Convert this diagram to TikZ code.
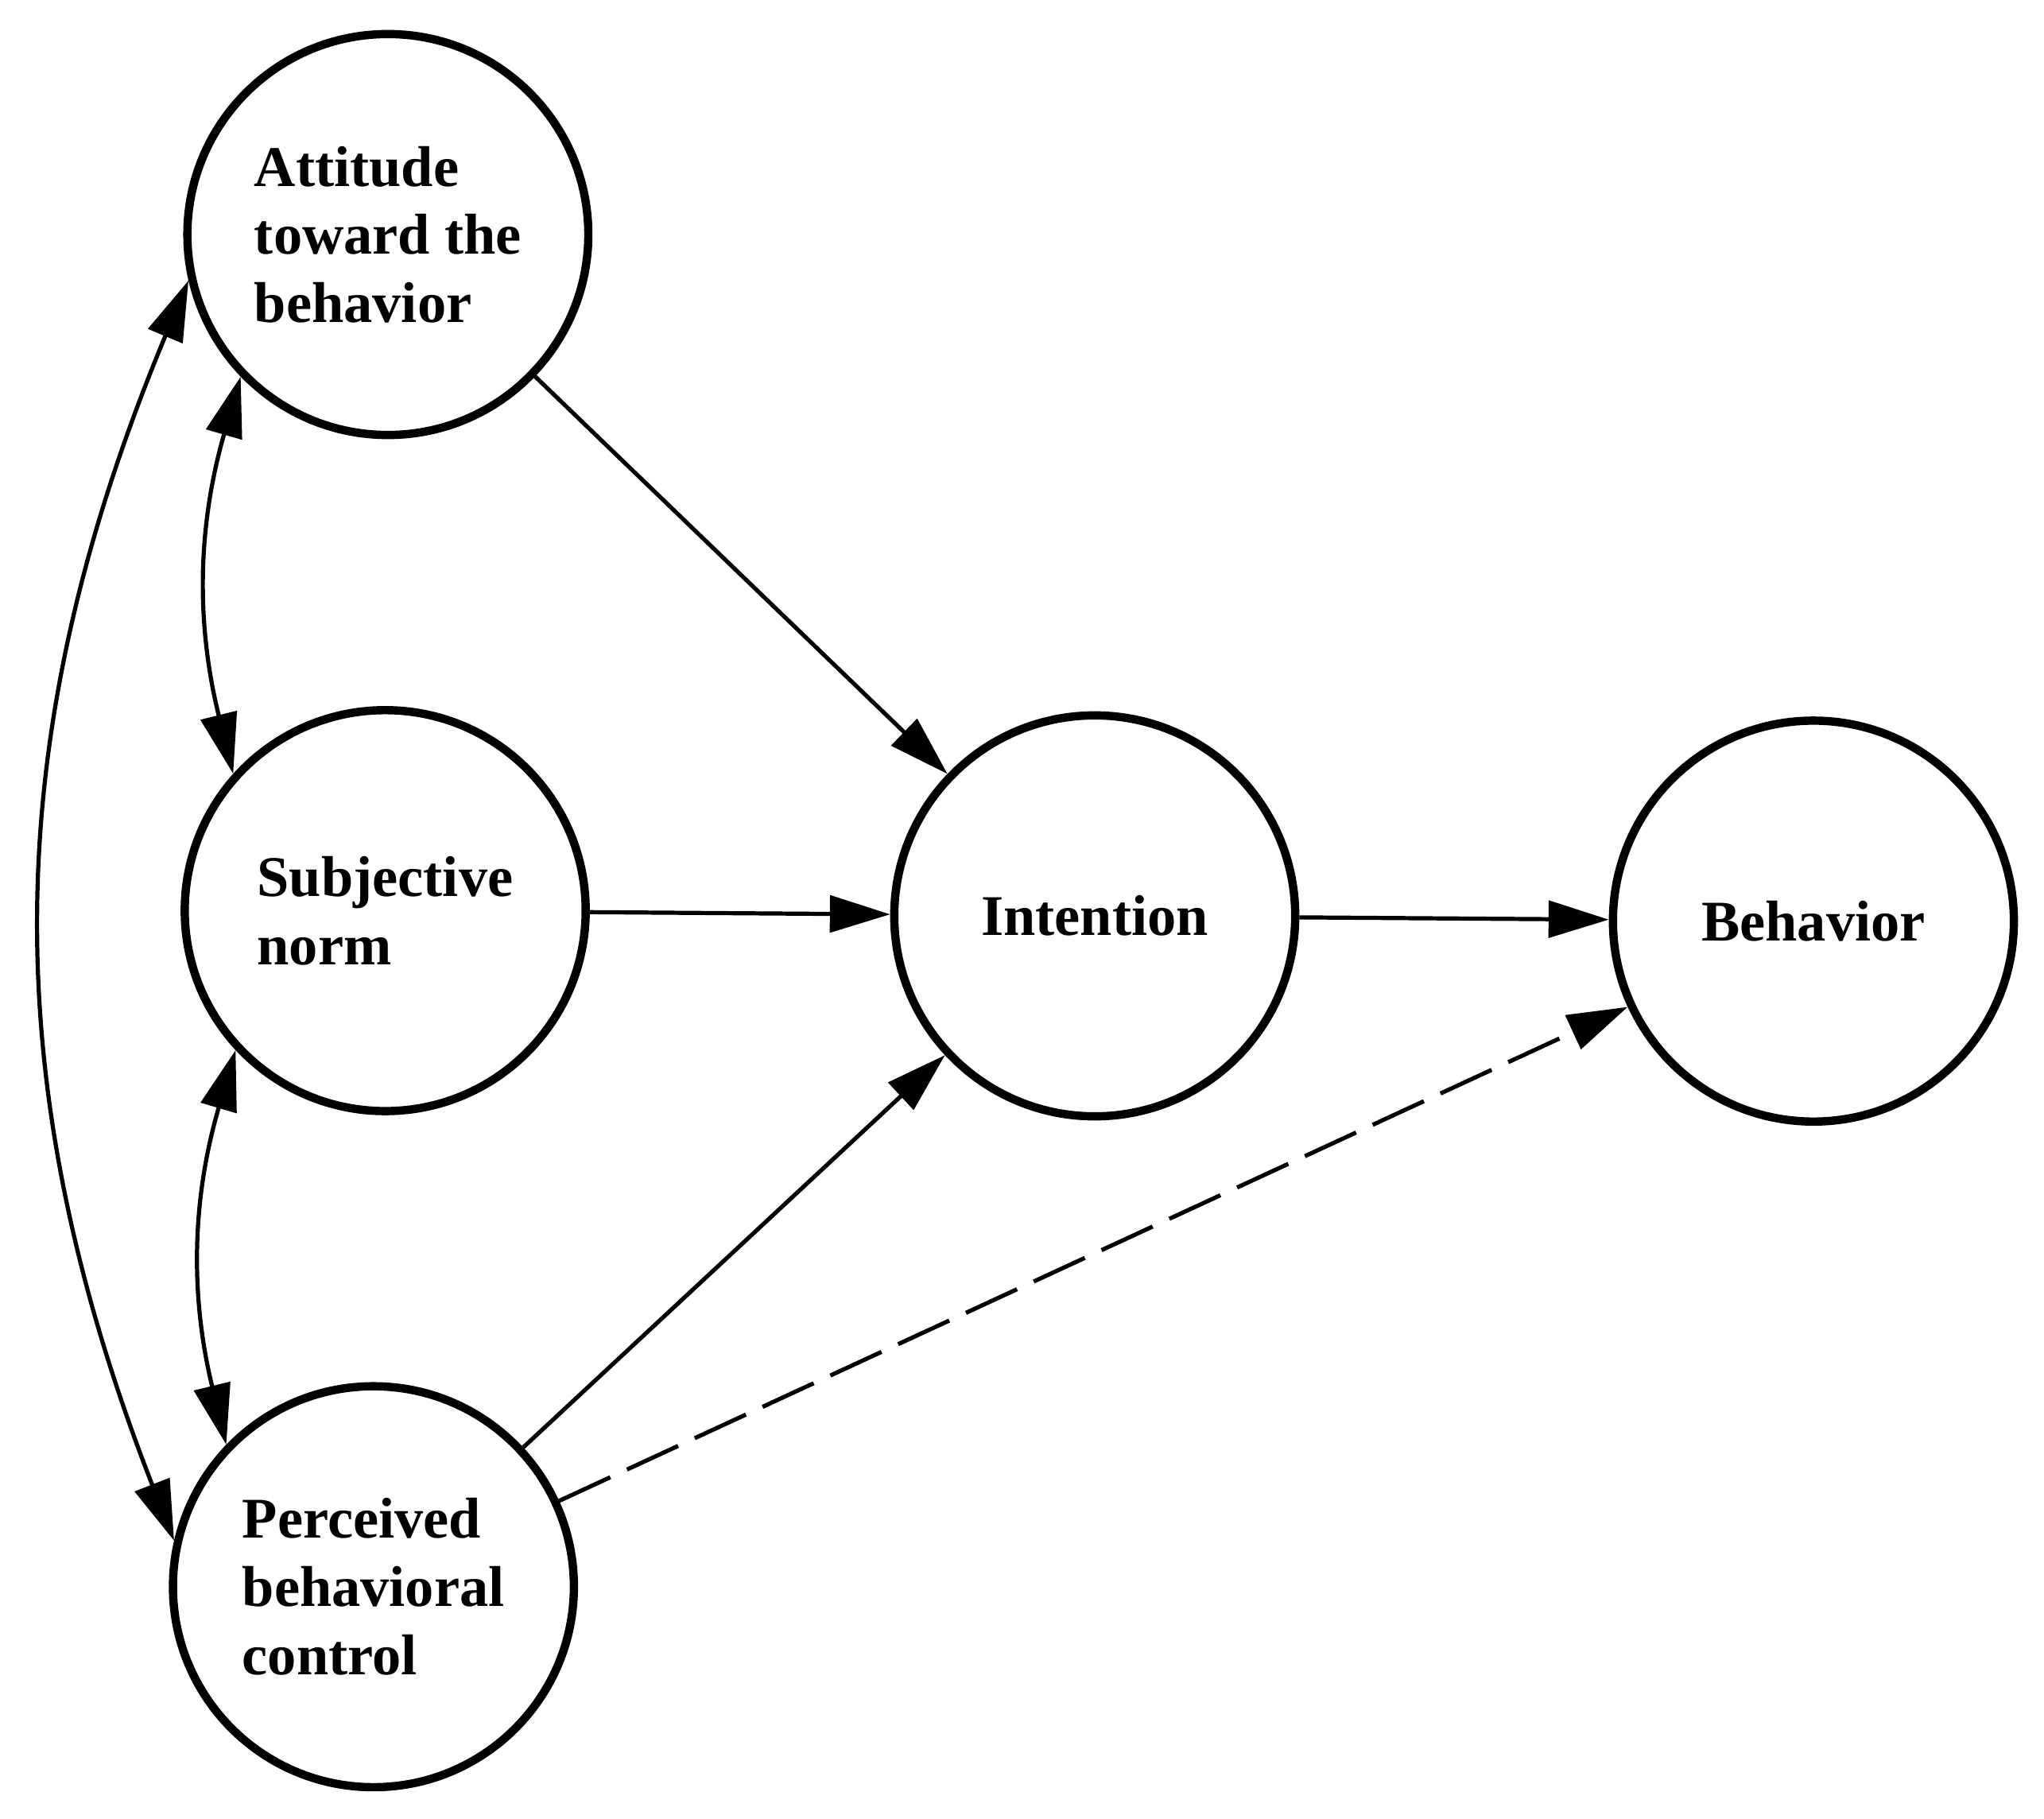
\documentclass[tikz,border=0pt]{standalone}
\usepackage{fontspec}
\setmainfont{Liberation Serif}
\usetikzlibrary{arrows.meta}

\begin{document}
\begin{tikzpicture}[
  construct/.style={circle, draw, line width=1.8pt, minimum size=3.06cm, inner sep=0pt,
    align=left, font=\fontsize{12.5}{14.8}\selectfont\bfseries},
  link/.style={-{Triangle[length=4.6mm,width=2.8mm]}, line width=0.9pt},
  twoway/.style={{Triangle[length=4.6mm,width=2.8mm]}-{Triangle[length=4.6mm,width=2.8mm]}, line width=0.9pt}
]
\useasboundingbox (0,0) rectangle (15.6,13.88);
% The constructs
\node[construct] (att) at (2.96,12.09) {Attitude\\toward the\\behavior};
\node[construct] (subj) at (2.94,6.93) {Subjective\\norm};
\node[construct] (pbc) at (2.85,1.77) {Perceived\\behavioral\\control};
\node[construct] (int) at (8.355,6.89) {Intention};
\node[construct] (beh) at (13.84,6.85) {Behavior};
% Direct paths
\draw[link] (att) -- (int);
\draw[link] (subj) -- (int);
\draw[link] (pbc) -- (int);
\draw[link] (int) -- (beh);
% The dashed path from control to behavior
\draw[link, dash pattern=on 4.3mm off 1.4mm] (pbc) -- (beh);
% Correlations between the three left constructs
\draw[twoway] (att.224) to[bend right=15] (subj.138);
\draw[twoway] (subj.223) to[bend right=15] (pbc.136);
\draw[twoway] (att.193) to[bend right=22] (pbc.167);
\end{tikzpicture}
\end{document}
